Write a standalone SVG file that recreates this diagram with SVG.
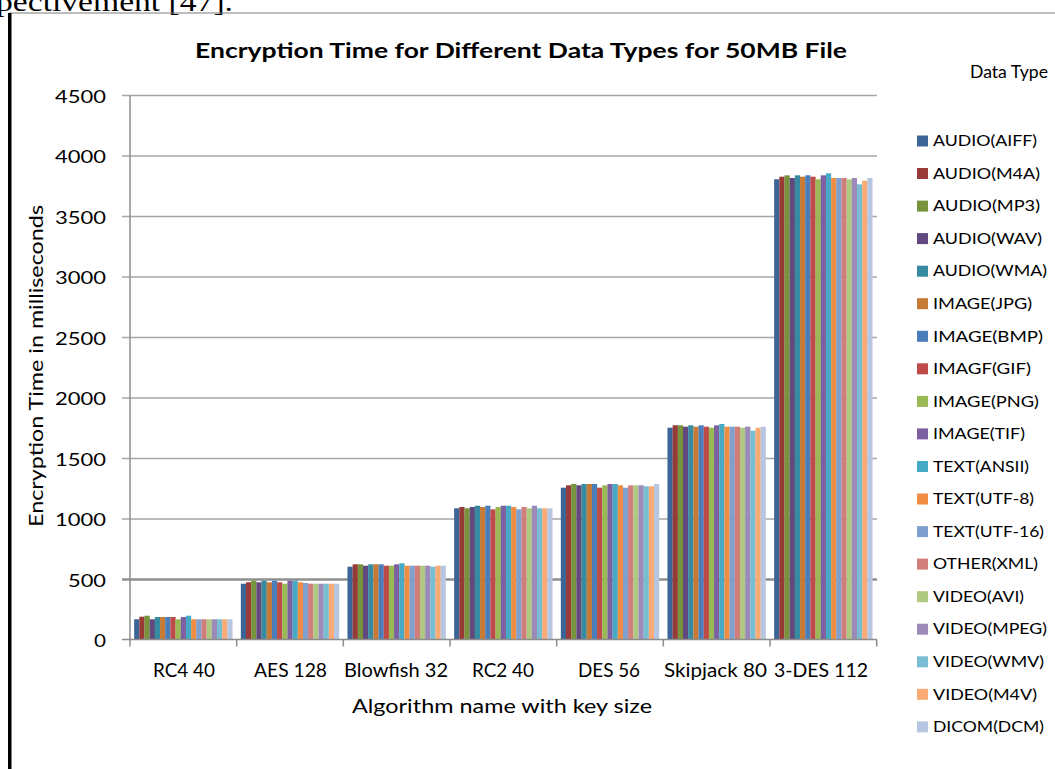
<svg xmlns="http://www.w3.org/2000/svg" width="1055" height="769" viewBox="0 0 1055 769">
  <style>
    .lbl { font-family: Lato, "Liberation Sans", sans-serif; fill: #000; }
    .tick { font-size: 18px; }
    .cat { font-size: 18.5px; }
    .leg { font-size: 15px; }
    .grid { stroke: #a6a6a6; stroke-width: 1.5; }
    .axis { stroke: #8c8c8c; stroke-width: 1.5; fill: none; }
    .s1 { fill: #3c6496; } .s2 { fill: #983a37; } .s3 { fill: #77933c; } .s4 { fill: #61497d; }
    .s5 { fill: #378ba0; } .s6 { fill: #c77a35; } .s7 { fill: #4a7ebb; } .s8 { fill: #be4b48; }
    .s9 { fill: #98b954; } .s10 { fill: #7d60a0; } .s11 { fill: #46aac5; } .s12 { fill: #ee8d43; }
    .s13 { fill: #7f9fcf; } .s14 { fill: #d07d7b; } .s15 { fill: #afc982; } .s16 { fill: #9c8bb9; }
    .s17 { fill: #79bdd2; } .s18 { fill: #f9aa75; } .s19 { fill: #b8c7e1; }
  </style>

  <rect x="0" y="0" width="1055" height="769" fill="#ffffff"/>

  <!-- running text above the figure, clipped at the page top -->
  <text x="-4" y="11" font-family="'Liberation Serif', serif" font-size="27" textLength="237" lengthAdjust="spacingAndGlyphs">pectivement [47].</text>

  <!-- figure frame -->
  <line x1="9" y1="13" x2="1055" y2="13" stroke="#7a7a7a" stroke-width="1"/>
  <rect x="8" y="13" width="3.5" height="756" fill="#000"/>

  <!-- chart title -->
  <text class="lbl" x="195" y="58" font-size="21.5" font-weight="bold" textLength="652" lengthAdjust="spacingAndGlyphs">Encryption Time for Different Data Types for 50MB File</text>

  <!-- horizontal gridlines (500 ms steps) -->
  <g id="gridlines">
    <line class="grid" x1="122" y1="95.5" x2="877" y2="95.5"/>
    <line class="grid" x1="122" y1="156" x2="877" y2="156"/>
    <line class="grid" x1="122" y1="216.5" x2="877" y2="216.5"/>
    <line class="grid" x1="122" y1="277" x2="877" y2="277"/>
    <line class="grid" x1="122" y1="337.5" x2="877" y2="337.5"/>
    <line class="grid" x1="122" y1="398" x2="877" y2="398"/>
    <line class="grid" x1="122" y1="458.5" x2="877" y2="458.5"/>
    <line class="grid" x1="122" y1="519" x2="877" y2="519"/>
    <line x1="122" y1="579.5" x2="877" y2="579.5" stroke="#8f8f8f" stroke-width="2.5"/>
  </g>

  <!-- y axis tick labels -->
  <g id="y-ticks" class="lbl tick">
    <text x="55" y="102.7" textLength="51" lengthAdjust="spacingAndGlyphs">4500</text>
    <text x="55" y="163.2" textLength="51" lengthAdjust="spacingAndGlyphs">4000</text>
    <text x="55" y="223.7" textLength="51" lengthAdjust="spacingAndGlyphs">3500</text>
    <text x="55" y="284.2" textLength="51" lengthAdjust="spacingAndGlyphs">3000</text>
    <text x="55" y="344.7" textLength="51" lengthAdjust="spacingAndGlyphs">2500</text>
    <text x="55" y="405.2" textLength="51" lengthAdjust="spacingAndGlyphs">2000</text>
    <text x="55" y="465.7" textLength="51" lengthAdjust="spacingAndGlyphs">1500</text>
    <text x="55" y="526.2" textLength="51" lengthAdjust="spacingAndGlyphs">1000</text>
    <text x="68" y="586.7" textLength="38" lengthAdjust="spacingAndGlyphs">500</text>
    <text x="94" y="646.7" textLength="12" lengthAdjust="spacingAndGlyphs">0</text>
  </g>

  <!-- y axis title -->
  <text class="lbl" transform="translate(43,366) rotate(-90)" text-anchor="middle" font-size="19" textLength="322" lengthAdjust="spacingAndGlyphs">Encryption Time in milliseconds</text>

  <!-- bars: one group per algorithm, 19 data types each -->
  <g id="bars">
    <g id="rc4-40" transform="translate(130,0)">
      <rect class="s1" x="4.15" y="619.3" width="5.25" height="20.7"/>
      <rect class="s2" x="9.33" y="616.7" width="5.25" height="23.3"/>
      <rect class="s3" x="14.50" y="615.7" width="5.25" height="24.3"/>
      <rect class="s4" x="19.68" y="619.3" width="5.25" height="20.7"/>
      <rect class="s5" x="24.86" y="617" width="5.25" height="23"/>
      <rect class="s6" x="30.04" y="617" width="5.25" height="23"/>
      <rect class="s7" x="35.21" y="617" width="5.25" height="23"/>
      <rect class="s8" x="40.39" y="617" width="5.25" height="23"/>
      <rect class="s9" x="45.57" y="619.3" width="5.25" height="20.7"/>
      <rect class="s10" x="50.74" y="617" width="5.25" height="23"/>
      <rect class="s11" x="55.92" y="615.7" width="5.25" height="24.3"/>
      <rect class="s12" x="61.10" y="619.3" width="5.25" height="20.7"/>
      <rect class="s13" x="66.27" y="619.3" width="5.25" height="20.7"/>
      <rect class="s14" x="71.45" y="619.3" width="5.25" height="20.7"/>
      <rect class="s15" x="76.63" y="619.3" width="5.25" height="20.7"/>
      <rect class="s16" x="81.81" y="619.3" width="5.25" height="20.7"/>
      <rect class="s17" x="86.98" y="619.3" width="5.25" height="20.7"/>
      <rect class="s18" x="92.16" y="619.3" width="5.25" height="20.7"/>
      <rect class="s19" x="97.34" y="619.3" width="5.2" height="20.7"/>
    </g>
    <g id="aes-128" transform="translate(236.67,0)">
      <rect class="s1" x="4.15" y="583.7" width="5.25" height="56.3"/>
      <rect class="s2" x="9.33" y="582.3" width="5.25" height="57.7"/>
      <rect class="s3" x="14.50" y="580.7" width="5.25" height="59.3"/>
      <rect class="s4" x="19.68" y="582.3" width="5.25" height="57.7"/>
      <rect class="s5" x="24.86" y="580.7" width="5.25" height="59.3"/>
      <rect class="s6" x="30.04" y="582.3" width="5.25" height="57.7"/>
      <rect class="s7" x="35.21" y="580.7" width="5.25" height="59.3"/>
      <rect class="s8" x="40.39" y="582.3" width="5.25" height="57.7"/>
      <rect class="s9" x="45.57" y="583.7" width="5.25" height="56.3"/>
      <rect class="s10" x="50.74" y="580.7" width="5.25" height="59.3"/>
      <rect class="s11" x="55.92" y="580.7" width="5.25" height="59.3"/>
      <rect class="s12" x="61.10" y="582.3" width="5.25" height="57.7"/>
      <rect class="s13" x="66.27" y="583" width="5.25" height="57"/>
      <rect class="s14" x="71.45" y="583.7" width="5.25" height="56.3"/>
      <rect class="s15" x="76.63" y="583.7" width="5.25" height="56.3"/>
      <rect class="s16" x="81.81" y="583.7" width="5.25" height="56.3"/>
      <rect class="s17" x="86.98" y="583.7" width="5.25" height="56.3"/>
      <rect class="s18" x="92.16" y="583.7" width="5.25" height="56.3"/>
      <rect class="s19" x="97.34" y="583.7" width="5.2" height="56.3"/>
    </g>
    <g id="blowfish-32" transform="translate(343.33,0)">
      <rect class="s1" x="4.15" y="566.7" width="5.25" height="73.3"/>
      <rect class="s2" x="9.33" y="564.3" width="5.25" height="75.7"/>
      <rect class="s3" x="14.50" y="564.3" width="5.25" height="75.7"/>
      <rect class="s4" x="19.68" y="565.7" width="5.25" height="74.3"/>
      <rect class="s5" x="24.86" y="564.3" width="5.25" height="75.7"/>
      <rect class="s6" x="30.04" y="564.3" width="5.25" height="75.7"/>
      <rect class="s7" x="35.21" y="564.3" width="5.25" height="75.7"/>
      <rect class="s8" x="40.39" y="565.7" width="5.25" height="74.3"/>
      <rect class="s9" x="45.57" y="565.7" width="5.25" height="74.3"/>
      <rect class="s10" x="50.74" y="564.3" width="5.25" height="75.7"/>
      <rect class="s11" x="55.92" y="563.3" width="5.25" height="76.7"/>
      <rect class="s12" x="61.10" y="565.7" width="5.25" height="74.3"/>
      <rect class="s13" x="66.27" y="565.7" width="5.25" height="74.3"/>
      <rect class="s14" x="71.45" y="565.7" width="5.25" height="74.3"/>
      <rect class="s15" x="76.63" y="565.7" width="5.25" height="74.3"/>
      <rect class="s16" x="81.81" y="565.7" width="5.25" height="74.3"/>
      <rect class="s17" x="86.98" y="566.7" width="5.25" height="73.3"/>
      <rect class="s18" x="92.16" y="565.7" width="5.25" height="74.3"/>
      <rect class="s19" x="97.34" y="565.7" width="5.2" height="74.3"/>
    </g>
    <g id="rc2-40" transform="translate(450,0)">
      <rect class="s1" x="4.15" y="508.3" width="5.25" height="131.7"/>
      <rect class="s2" x="9.33" y="507" width="5.25" height="133"/>
      <rect class="s3" x="14.50" y="508.3" width="5.25" height="131.7"/>
      <rect class="s4" x="19.68" y="507" width="5.25" height="133"/>
      <rect class="s5" x="24.86" y="505.7" width="5.25" height="134.3"/>
      <rect class="s6" x="30.04" y="507" width="5.25" height="133"/>
      <rect class="s7" x="35.21" y="505.7" width="5.25" height="134.3"/>
      <rect class="s8" x="40.39" y="509.3" width="5.25" height="130.7"/>
      <rect class="s9" x="45.57" y="507" width="5.25" height="133"/>
      <rect class="s10" x="50.74" y="505.7" width="5.25" height="134.3"/>
      <rect class="s11" x="55.92" y="505.7" width="5.25" height="134.3"/>
      <rect class="s12" x="61.10" y="507" width="5.25" height="133"/>
      <rect class="s13" x="66.27" y="509.3" width="5.25" height="130.7"/>
      <rect class="s14" x="71.45" y="507" width="5.25" height="133"/>
      <rect class="s15" x="76.63" y="508.3" width="5.25" height="131.7"/>
      <rect class="s16" x="81.81" y="505.7" width="5.25" height="134.3"/>
      <rect class="s17" x="86.98" y="508.3" width="5.25" height="131.7"/>
      <rect class="s18" x="92.16" y="508.3" width="5.25" height="131.7"/>
      <rect class="s19" x="97.34" y="508.3" width="5.2" height="131.7"/>
    </g>
    <g id="des-56" transform="translate(556.67,0)">
      <rect class="s1" x="4.15" y="487.7" width="5.25" height="152.3"/>
      <rect class="s2" x="9.33" y="485.3" width="5.25" height="154.7"/>
      <rect class="s3" x="14.50" y="484" width="5.25" height="156"/>
      <rect class="s4" x="19.68" y="485.3" width="5.25" height="154.7"/>
      <rect class="s5" x="24.86" y="484" width="5.25" height="156"/>
      <rect class="s6" x="30.04" y="484" width="5.25" height="156"/>
      <rect class="s7" x="35.21" y="484" width="5.25" height="156"/>
      <rect class="s8" x="40.39" y="487.7" width="5.25" height="152.3"/>
      <rect class="s9" x="45.57" y="485.3" width="5.25" height="154.7"/>
      <rect class="s10" x="50.74" y="484" width="5.25" height="156"/>
      <rect class="s11" x="55.92" y="484" width="5.25" height="156"/>
      <rect class="s12" x="61.10" y="485.3" width="5.25" height="154.7"/>
      <rect class="s13" x="66.27" y="487.7" width="5.25" height="152.3"/>
      <rect class="s14" x="71.45" y="485.3" width="5.25" height="154.7"/>
      <rect class="s15" x="76.63" y="485.3" width="5.25" height="154.7"/>
      <rect class="s16" x="81.81" y="485.3" width="5.25" height="154.7"/>
      <rect class="s17" x="86.98" y="486.3" width="5.25" height="153.7"/>
      <rect class="s18" x="92.16" y="486.3" width="5.25" height="153.7"/>
      <rect class="s19" x="97.34" y="484" width="5.2" height="156"/>
    </g>
    <g id="skipjack-80" transform="translate(663.33,0)">
      <rect class="s1" x="4.15" y="427.7" width="5.25" height="212.3"/>
      <rect class="s2" x="9.33" y="425.3" width="5.25" height="214.7"/>
      <rect class="s3" x="14.50" y="425.3" width="5.25" height="214.7"/>
      <rect class="s4" x="19.68" y="426.7" width="5.25" height="213.3"/>
      <rect class="s5" x="24.86" y="425.3" width="5.25" height="214.7"/>
      <rect class="s6" x="30.04" y="426.7" width="5.25" height="213.3"/>
      <rect class="s7" x="35.21" y="425.3" width="5.25" height="214.7"/>
      <rect class="s8" x="40.39" y="426.7" width="5.25" height="213.3"/>
      <rect class="s9" x="45.57" y="427.7" width="5.25" height="212.3"/>
      <rect class="s10" x="50.74" y="425.3" width="5.25" height="214.7"/>
      <rect class="s11" x="55.92" y="424" width="5.25" height="216"/>
      <rect class="s12" x="61.10" y="426.7" width="5.25" height="213.3"/>
      <rect class="s13" x="66.27" y="426.7" width="5.25" height="213.3"/>
      <rect class="s14" x="71.45" y="426.7" width="5.25" height="213.3"/>
      <rect class="s15" x="76.63" y="427.7" width="5.25" height="212.3"/>
      <rect class="s16" x="81.81" y="426.7" width="5.25" height="213.3"/>
      <rect class="s17" x="86.98" y="430.7" width="5.25" height="209.3"/>
      <rect class="s18" x="92.16" y="427.7" width="5.25" height="212.3"/>
      <rect class="s19" x="97.34" y="426.7" width="5.2" height="213.3"/>
    </g>
    <g id="3des-112" transform="translate(770,0)">
      <rect class="s1" x="4.15" y="179.3" width="5.25" height="460.7"/>
      <rect class="s2" x="9.33" y="176.7" width="5.25" height="463.3"/>
      <rect class="s3" x="14.50" y="175.3" width="5.25" height="464.7"/>
      <rect class="s4" x="19.68" y="178" width="5.25" height="462"/>
      <rect class="s5" x="24.86" y="175.3" width="5.25" height="464.7"/>
      <rect class="s6" x="30.04" y="176.7" width="5.25" height="463.3"/>
      <rect class="s7" x="35.21" y="175.3" width="5.25" height="464.7"/>
      <rect class="s8" x="40.39" y="176.7" width="5.25" height="463.3"/>
      <rect class="s9" x="45.57" y="179.3" width="5.25" height="460.7"/>
      <rect class="s10" x="50.74" y="175.3" width="5.25" height="464.7"/>
      <rect class="s11" x="55.92" y="173.3" width="5.25" height="466.7"/>
      <rect class="s12" x="61.10" y="178" width="5.25" height="462"/>
      <rect class="s13" x="66.27" y="178" width="5.25" height="462"/>
      <rect class="s14" x="71.45" y="178" width="5.25" height="462"/>
      <rect class="s15" x="76.63" y="179.3" width="5.25" height="460.7"/>
      <rect class="s16" x="81.81" y="178" width="5.25" height="462"/>
      <rect class="s17" x="86.98" y="184.3" width="5.25" height="455.7"/>
      <rect class="s18" x="92.16" y="180.7" width="5.25" height="459.3"/>
      <rect class="s19" x="97.34" y="178" width="5.2" height="462"/>
    </g>
  </g>

  <!-- axes with category tick marks -->
  <g id="axes">
    <line class="axis" x1="122" y1="639.5" x2="877" y2="639.5"/>
    <line class="axis" x1="130" y1="95.5" x2="130" y2="646.5"/>
    <path class="axis" d="M236.67 639.5V646.5M343.33 639.5V646.5M450 639.5V646.5M556.67 639.5V646.5M663.33 639.5V646.5M770 639.5V646.5M876.67 639.5V646.5"/>
  </g>

  <!-- category labels -->
  <g id="x-labels" class="lbl cat">
    <text x="153" y="677" textLength="62" lengthAdjust="spacingAndGlyphs">RC4 40</text>
    <text x="254" y="677" textLength="73" lengthAdjust="spacingAndGlyphs">AES 128</text>
    <text x="344" y="677" textLength="104" lengthAdjust="spacingAndGlyphs">Blowfish 32</text>
    <text x="472" y="677" textLength="62" lengthAdjust="spacingAndGlyphs">RC2 40</text>
    <text x="578" y="677" textLength="62" lengthAdjust="spacingAndGlyphs">DES 56</text>
    <text x="664" y="677" textLength="103" lengthAdjust="spacingAndGlyphs">Skipjack 80</text>
    <text x="774" y="677" textLength="94" lengthAdjust="spacingAndGlyphs">3-DES 112</text>
  </g>

  <!-- x axis title -->
  <text class="lbl" x="352" y="713" font-size="19.5" textLength="300" lengthAdjust="spacingAndGlyphs">Algorithm name with key size</text>

  <!-- legend -->
  <g id="legend">
    <text class="lbl" x="970" y="78" font-size="17.5" textLength="78" lengthAdjust="spacingAndGlyphs">Data Type</text>
    <g class="lbl leg">
      <rect class="s1" x="917" y="135.5" width="11" height="11"/><text x="933" y="146.2" textLength="104" lengthAdjust="spacingAndGlyphs">AUDIO(AIFF)</text>
      <rect class="s2" x="917" y="168" width="11" height="11"/><text x="933" y="178.7" textLength="107" lengthAdjust="spacingAndGlyphs">AUDIO(M4A)</text>
      <rect class="s3" x="917" y="200.6" width="11" height="11"/><text x="933" y="211.3" textLength="107" lengthAdjust="spacingAndGlyphs">AUDIO(MP3)</text>
      <rect class="s4" x="917" y="233.1" width="11" height="11"/><text x="933" y="243.8" textLength="109" lengthAdjust="spacingAndGlyphs">AUDIO(WAV)</text>
      <rect class="s5" x="917" y="265.7" width="11" height="11"/><text x="933" y="276.4" textLength="114" lengthAdjust="spacingAndGlyphs">AUDIO(WMA)</text>
      <rect class="s6" x="917" y="298.2" width="11" height="11"/><text x="933" y="308.9" textLength="99" lengthAdjust="spacingAndGlyphs">IMAGE(JPG)</text>
      <rect class="s7" x="917" y="330.8" width="11" height="11"/><text x="933" y="341.5" textLength="110" lengthAdjust="spacingAndGlyphs">IMAGE(BMP)</text>
      <rect class="s8" x="917" y="363.3" width="11" height="11"/><text x="933" y="374" textLength="98" lengthAdjust="spacingAndGlyphs">IMAGF(GIF)</text>
      <rect class="s9" x="917" y="395.9" width="11" height="11"/><text x="933" y="406.6" textLength="106" lengthAdjust="spacingAndGlyphs">IMAGE(PNG)</text>
      <rect class="s10" x="917" y="428.4" width="11" height="11"/><text x="933" y="439.1" textLength="92" lengthAdjust="spacingAndGlyphs">IMAGE(TIF)</text>
      <rect class="s11" x="917" y="461" width="11" height="11"/><text x="933" y="471.7" textLength="96" lengthAdjust="spacingAndGlyphs">TEXT(ANSII)</text>
      <rect class="s12" x="917" y="493.5" width="11" height="11"/><text x="933" y="504.2" textLength="101" lengthAdjust="spacingAndGlyphs">TEXT(UTF-8)</text>
      <rect class="s13" x="917" y="526.1" width="11" height="11"/><text x="933" y="536.8" textLength="111" lengthAdjust="spacingAndGlyphs">TEXT(UTF-16)</text>
      <rect class="s14" x="917" y="558.6" width="11" height="11"/><text x="933" y="569.3" textLength="105" lengthAdjust="spacingAndGlyphs">OTHER(XML)</text>
      <rect class="s15" x="917" y="591.2" width="11" height="11"/><text x="933" y="601.9" textLength="91" lengthAdjust="spacingAndGlyphs">VIDEO(AVI)</text>
      <rect class="s16" x="917" y="623.7" width="11" height="11"/><text x="933" y="634.4" textLength="114" lengthAdjust="spacingAndGlyphs">VIDEO(MPEG)</text>
      <rect class="s17" x="917" y="656.3" width="11" height="11"/><text x="933" y="667" textLength="111" lengthAdjust="spacingAndGlyphs">VIDEO(WMV)</text>
      <rect class="s18" x="917" y="688.8" width="11" height="11"/><text x="933" y="699.5" textLength="104" lengthAdjust="spacingAndGlyphs">VIDEO(M4V)</text>
      <rect class="s19" x="917" y="721.4" width="11" height="11"/><text x="933" y="732.1" textLength="111" lengthAdjust="spacingAndGlyphs">DICOM(DCM)</text>
    </g>
  </g>
</svg>
